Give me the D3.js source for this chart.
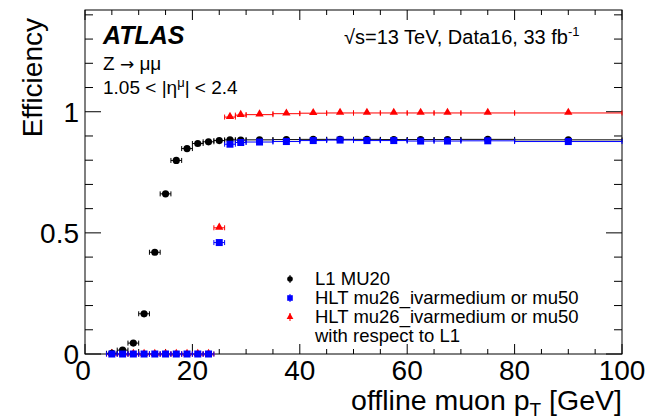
<!DOCTYPE html>
<html>
<head>
<meta charset="utf-8">
<script src="https://cdn.jsdelivr.net/npm/d3@7"></script>
<style>
  body { margin: 0; background: #fff; }
  svg { display: block; font-family: "Liberation Sans", Arial, sans-serif; }
</style>
</head>
<body>
<div id="chart"></div>
<script>
// bin edges in offline muon pT [GeV]
const binEdges = [4, 6, 8, 10, 12, 14, 16, 18, 20, 22, 24, 26, 28, 30, 35, 40, 45, 50, 55, 60, 65, 70, 80, 100]

// L1 MU20
const l1Eff = [0.003, 0.016, 0.045, 0.166, 0.42, 0.661, 0.799, 0.848, 0.869, 0.876, 0.881, 0.884, 0.883,
  0.884, 0.885, 0.886, 0.886, 0.886, 0.885, 0.885, 0.885, 0.886, 0.884]
// HLT mu26_ivarmedium or mu50
const hltEff = [0, 0, 0, 0, 0, 0, 0, 0, 0, 0, 0.46, 0.866, 0.873,
  0.875, 0.877, 0.881, 0.883, 0.881, 0.881, 0.879, 0.879, 0.880, 0.877]
// HLT w.r.t. L1
const hltWrtL1 = [0, 0, 0, 0, 0, 0, 0, 0, 0, 0, 0.521, 0.978, 0.986,
  0.988, 0.992, 0.994, 0.995, 0.995, 0.995, 0.995, 0.995, 0.995, 0.995]

const xTicks = [0, 20, 40, 60, 80, 100]
const yTicks = [0, 0.5, 1]
const legendLabels = ["L1 MU20", "HLT mu26_ivarmedium or mu50", "HLT mu26_ivarmedium or mu50", "with respect to L1"]

const width = 647, height = 420
const margin = { left: 85, right: 25, top: 10, bottom: 66 }

const svg = d3.select("#chart").append("svg")
  .attr("width", width).attr("height", height)

const x = d3.scaleLinear().domain([0, 100]).range([margin.left, width - margin.right])
const y = d3.scaleLinear().domain([0, 1.42]).range([height - margin.bottom, margin.top])

const x0 = x.range()[0], x1 = x.range()[1]
const y0 = y.range()[0], y1 = y.range()[1]

// frame
svg.append("rect")
  .attr("x", x0).attr("y", y1)
  .attr("width", x1 - x0).attr("height", y0 - y1)
  .attr("fill", "none").attr("stroke", "#000").attr("stroke-width", 1)

// ticks, inward on all four sides
const xMinor = d3.range(0, 100.1, 5)
const yMinor = d3.range(0, 1.41, 0.1)
const tickG = svg.append("g").attr("stroke", "#000").attr("stroke-width", 1)
xMinor.forEach(v => {
  const major = v % 20 === 0
  const len = major ? 10 : 5
  tickG.append("line").attr("x1", x(v)).attr("x2", x(v)).attr("y1", y0).attr("y2", y0 - len)
  tickG.append("line").attr("x1", x(v)).attr("x2", x(v)).attr("y1", y1).attr("y2", y1 + len)
})
yMinor.forEach(v => {
  const major = Math.abs(v * 2 - Math.round(v * 2)) < 1e-6
  const len = major ? 16 : 8
  tickG.append("line").attr("x1", x0).attr("x2", x0 + len).attr("y1", y(v)).attr("y2", y(v))
  tickG.append("line").attr("x1", x1).attr("x2", x1 - len).attr("y1", y(v)).attr("y2", y(v))
})

// tick labels
svg.append("g").selectAll("text").data(xTicks).join("text")
  .attr("x", d => x(d) - (d === 0 ? 2 : 0)).attr("y", y0 + 26)
  .attr("text-anchor", "middle").attr("font-size", 28)
  .text(d => d)
svg.append("g").selectAll("text").data(yTicks).join("text")
  .attr("x", x0 - 6).attr("y", d => y(d) + 10)
  .attr("text-anchor", "end").attr("font-size", 28)
  .text(d => d)

// axis titles
const xt = svg.append("text")
  .attr("x", x1).attr("y", 410)
  .attr("text-anchor", "end").attr("font-size", 28.5)
xt.append("tspan").text("offline muon p")
xt.append("tspan").attr("font-size", 19).attr("dy", 6).text("T")
xt.append("tspan").attr("dy", -6).text(" [GeV]")

svg.append("text")
  .attr("transform", "rotate(-90)")
  .attr("x", -18).attr("y", 42)
  .attr("text-anchor", "end").attr("font-size", 28)
  .text("Efficiency")

// build points
function series(vals) {
  return vals.map((v, i) => ({ lo: binEdges[i], hi: binEdges[i + 1], c: (binEdges[i] + binEdges[i + 1]) / 2, v }))
    .filter(d => d.v !== null)
}

function drawErrors(g, data, color) {
  g.selectAll("line.h").data(data).join("line").attr("class", "h")
    .attr("x1", d => x(d.lo)).attr("x2", d => x(d.hi))
    .attr("y1", d => y(d.v)).attr("y2", d => y(d.v))
    .attr("stroke", color).attr("stroke-width", 1)
  g.selectAll("line.cl").data(data).join("line").attr("class", "cl")
    .attr("x1", d => x(d.lo)).attr("x2", d => x(d.lo))
    .attr("y1", d => y(d.v) - 2.5).attr("y2", d => y(d.v) + 2.5)
    .attr("stroke", color).attr("stroke-width", 1)
  g.selectAll("line.cr").data(data).join("line").attr("class", "cr")
    .attr("x1", d => x(d.hi)).attr("x2", d => x(d.hi))
    .attr("y1", d => y(d.v) - 2.5).attr("y2", d => y(d.v) + 2.5)
    .attr("stroke", color).attr("stroke-width", 1)
}

const red = "#ff0000", blue = "#0000ff"

// red: HLT w.r.t. L1
const gRed = svg.append("g")
const redData = series(hltWrtL1)
drawErrors(gRed, redData, red)
gRed.selectAll("path").data(redData).join("path")
  .attr("d", d3.symbol(d3.symbolTriangle, 30))
  .attr("transform", d => `translate(${x(d.c)},${y(d.v) - 0.5})`)
  .attr("fill", red)

// black: L1
const gBlack = svg.append("g")
const blackData = series(l1Eff)
drawErrors(gBlack, blackData, "#000")
gBlack.selectAll("circle").data(blackData).join("circle")
  .attr("cx", d => x(d.c)).attr("cy", d => y(d.v)).attr("r", 3.6)
  .attr("fill", "#000")

// blue: HLT
const gBlue = svg.append("g")
const blueData = series(hltEff)
drawErrors(gBlue, blueData, blue)
gBlue.selectAll("rect").data(blueData).join("rect")
  .attr("x", d => x(d.c) - 3.5).attr("y", d => y(d.v) - 3.5)
  .attr("width", 7).attr("height", 7)
  .attr("fill", blue)

// labels
svg.append("text").attr("x", 103).attr("y", 44)
  .attr("font-size", 25).attr("font-weight", "bold").attr("font-style", "italic")
  .text("ATLAS")
const z = svg.append("text").attr("x", 103).attr("y", 70).attr("font-size", 19)
z.append("tspan").text("Z ")
z.append("tspan").attr("font-family", "DejaVu Sans").attr("font-size", 17).text("\u2192")
z.append("tspan").text(" \u03bc\u03bc")
const eta = svg.append("text").attr("x", 103).attr("y", 94).attr("font-size", 19)
eta.append("tspan").text("1.05 < |\u03b7")
eta.append("tspan").attr("font-size", 13).attr("dy", -7).text("\u03bc")
eta.append("tspan").attr("dy", 7).text("| < 2.4")

const lumi = svg.append("text").attr("x", 344).attr("y", 44).attr("font-size", 20)
lumi.append("tspan").text("\u221as=13 TeV, Data16, 33 fb")
lumi.append("tspan").attr("font-size", 13).attr("dy", -8).text("-1")

// legend
const legX = 290, legText = 315
const legY = [279, 298, 317, 336]
const lg = svg.append("g")
lg.append("line").attr("x1", legX).attr("x2", legX).attr("y1", legY[0] - 4).attr("y2", legY[0] + 4).attr("stroke", "#000")
lg.append("circle").attr("cx", legX).attr("cy", legY[0]).attr("r", 2.8).attr("fill", "#000")
lg.append("line").attr("x1", legX).attr("x2", legX).attr("y1", legY[1] - 4).attr("y2", legY[1] + 4).attr("stroke", blue)
lg.append("rect").attr("x", legX - 2.8).attr("y", legY[1] - 2.8).attr("width", 5.6).attr("height", 5.6).attr("fill", blue)
lg.append("line").attr("x1", legX).attr("x2", legX).attr("y1", legY[2] - 4).attr("y2", legY[2] + 4).attr("stroke", red)
lg.append("path").attr("d", d3.symbol(d3.symbolTriangle, 20)).attr("transform", `translate(${legX},${legY[2]})`).attr("fill", red)
lg.selectAll("text").data(legendLabels).join("text")
  .attr("x", legText).attr("y", (d, i) => legY[i] + 6)
  .attr("font-size", 18.5)
  .text(d => d)
</script>
</body>
</html>
